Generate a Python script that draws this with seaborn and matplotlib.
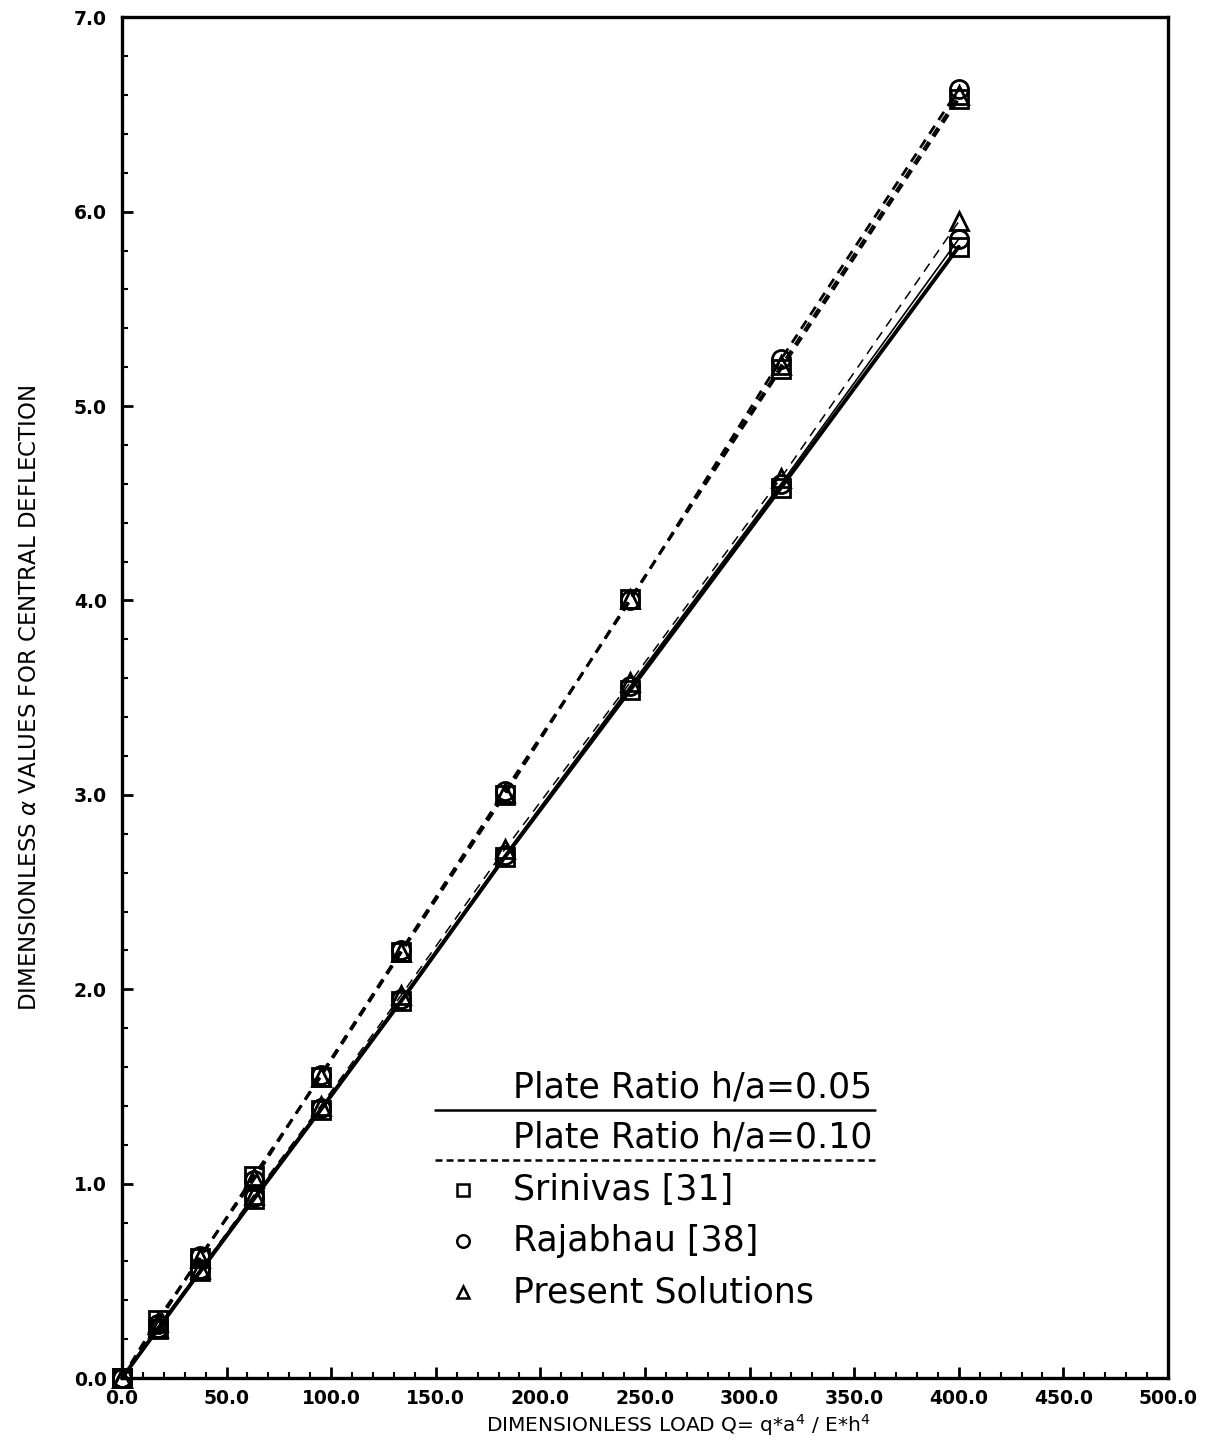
import matplotlib
matplotlib.use("Agg")
import matplotlib.pyplot as plt
from matplotlib.ticker import MultipleLocator, FormatStrFormatter
from matplotlib.lines import Line2D
import seaborn as sns
import pandas as pd

# ---- data ----
load_q = [0.0, 17.0, 37.5, 63.0, 95.0, 133.5, 183.0, 243.0, 315.0, 400.0]

# plate ratio h/a = 0.05 (solid)
srinivas_005 = [0.0, 0.25, 0.55, 0.92, 1.38, 1.94, 2.68, 3.54, 4.58, 5.82]
rajabhau_005 = [0.0, 0.26, 0.56, 0.93, 1.39, 1.95, 2.69, 3.56, 4.60, 5.86]
present_005 = [0.0, 0.26, 0.56, 0.94, 1.40, 1.97, 2.72, 3.58, 4.63, 5.95]

# plate ratio h/a = 0.10 (dashed)
srinivas_010 = [0.0, 0.30, 0.62, 1.04, 1.55, 2.19, 3.00, 4.01, 5.19, 6.58]
rajabhau_010 = [0.0, 0.28, 0.63, 1.02, 1.56, 2.20, 3.02, 4.00, 5.24, 6.63]
present_010 = [0.0, 0.29, 0.62, 1.03, 1.55, 2.19, 3.01, 4.01, 5.21, 6.60]

x_ticks = [0, 50, 100, 150, 200, 250, 300, 350, 400, 450, 500]
y_ticks = [0, 1, 2, 3, 4, 5, 6, 7]

legend_labels = ["Plate Ratio h/a=0.05", "Plate Ratio h/a=0.10",
                 "Srinivas [31]", "Rajabhau [38]", "Present Solutions"]

sns.set_style("ticks", {"axes.edgecolor": "black", "xtick.color": "black",
                        "ytick.color": "black", "text.color": "black",
                        "axes.labelcolor": "black"})
plt.rcParams["font.family"] = ["DejaVu Sans"]
plt.rcParams["lines.scale_dashes"] = False

fig = plt.figure(figsize=(12.10, 14.43), dpi=100)
ax = fig.add_axes([0.1008, 0.045, 0.8645, 0.943])

dash = (0, (7, 5))
series = [
    (srinivas_005, "s", "-", 2.8),
    (rajabhau_005, "o", "-", 1.2),
    (present_005, "^", dash, 1.1),
    (srinivas_010, "s", dash, 2.0),
    (rajabhau_010, "o", dash, 2.0),
    (present_010, "^", dash, 1.4),
]
for vals, mk, ls, lw in series:
    df = pd.DataFrame({"Q": load_q, "alpha": vals})
    sns.lineplot(data=df, x="Q", y="alpha", ax=ax, color="black",
                 linestyle=ls, linewidth=lw, marker=mk, markersize=13,
                 markerfacecolor="none", markeredgecolor="black",
                 markeredgewidth=2.0, clip_on=False)

ax.set_xlim(0, 500)
ax.set_ylim(0, 7)
ax.xaxis.set_minor_locator(MultipleLocator(10))
ax.yaxis.set_minor_locator(MultipleLocator(0.2))
ax.set_xticks(x_ticks)
ax.set_yticks(y_ticks)
ax.xaxis.set_major_formatter(FormatStrFormatter("%.1f"))
ax.yaxis.set_major_formatter(FormatStrFormatter("%.1f"))

for s in ax.spines.values():
    s.set_linewidth(2.4)
    s.set_visible(True)
    s.set_color("black")

ax.tick_params(axis="both", which="major", direction="in", length=8, width=2,
               labelsize=13.5, top=False, right=False, colors="black")
ax.tick_params(axis="both", which="minor", direction="in", length=4, width=1.5,
               top=False, right=False, colors="black")
ax.tick_params(axis="x", which="major", pad=8)
ax.tick_params(axis="y", which="major", pad=11)
for lab in ax.get_xticklabels() + ax.get_yticklabels():
    lab.set_fontweight("bold")

ax.set_xlabel("DIMENSIONLESS LOAD Q= q*a$^{4}$ / E*h$^{4}$", fontsize=14.5,
              labelpad=1)
ax.xaxis.set_label_coords(0.532, -0.025)
ax.set_ylabel(r"DIMENSIONLESS $\alpha$ VALUES FOR CENTRAL DEFLECTION",
              fontsize=16.5)
ax.yaxis.set_label_coords(-0.077, 0.5)

# ---- custom legend (text above line, as in the reference) ----
lx0, lx1 = 0.299, 0.720
tx = 0.374
mx = 0.326
fs = 25
ax.text(tx, 0.201, legend_labels[0], transform=ax.transAxes, fontsize=fs,
        ha="left", va="bottom")
ax.add_line(Line2D([lx0, lx1], [0.197, 0.197], transform=ax.transAxes,
                   color="black", lw=1.8))
ax.text(tx, 0.164, legend_labels[1], transform=ax.transAxes, fontsize=fs,
        ha="left", va="bottom")
ax.add_line(Line2D([lx0, lx1], [0.160, 0.160], transform=ax.transAxes,
                   color="black", lw=1.8, linestyle=(0, (5, 3))))
for yy, mk, lab in [(0.138, "s", legend_labels[2]),
                    (0.101, "o", legend_labels[3]),
                    (0.063, "^", legend_labels[4])]:
    ax.add_line(Line2D([mx], [yy], transform=ax.transAxes, marker=mk,
                       markersize=9, markerfacecolor="none",
                       markeredgecolor="black", markeredgewidth=1.8,
                       linestyle="none"))
    ax.text(tx, yy, lab, transform=ax.transAxes, fontsize=fs,
            ha="left", va="center")

fig.savefig("out.png", dpi=100)
